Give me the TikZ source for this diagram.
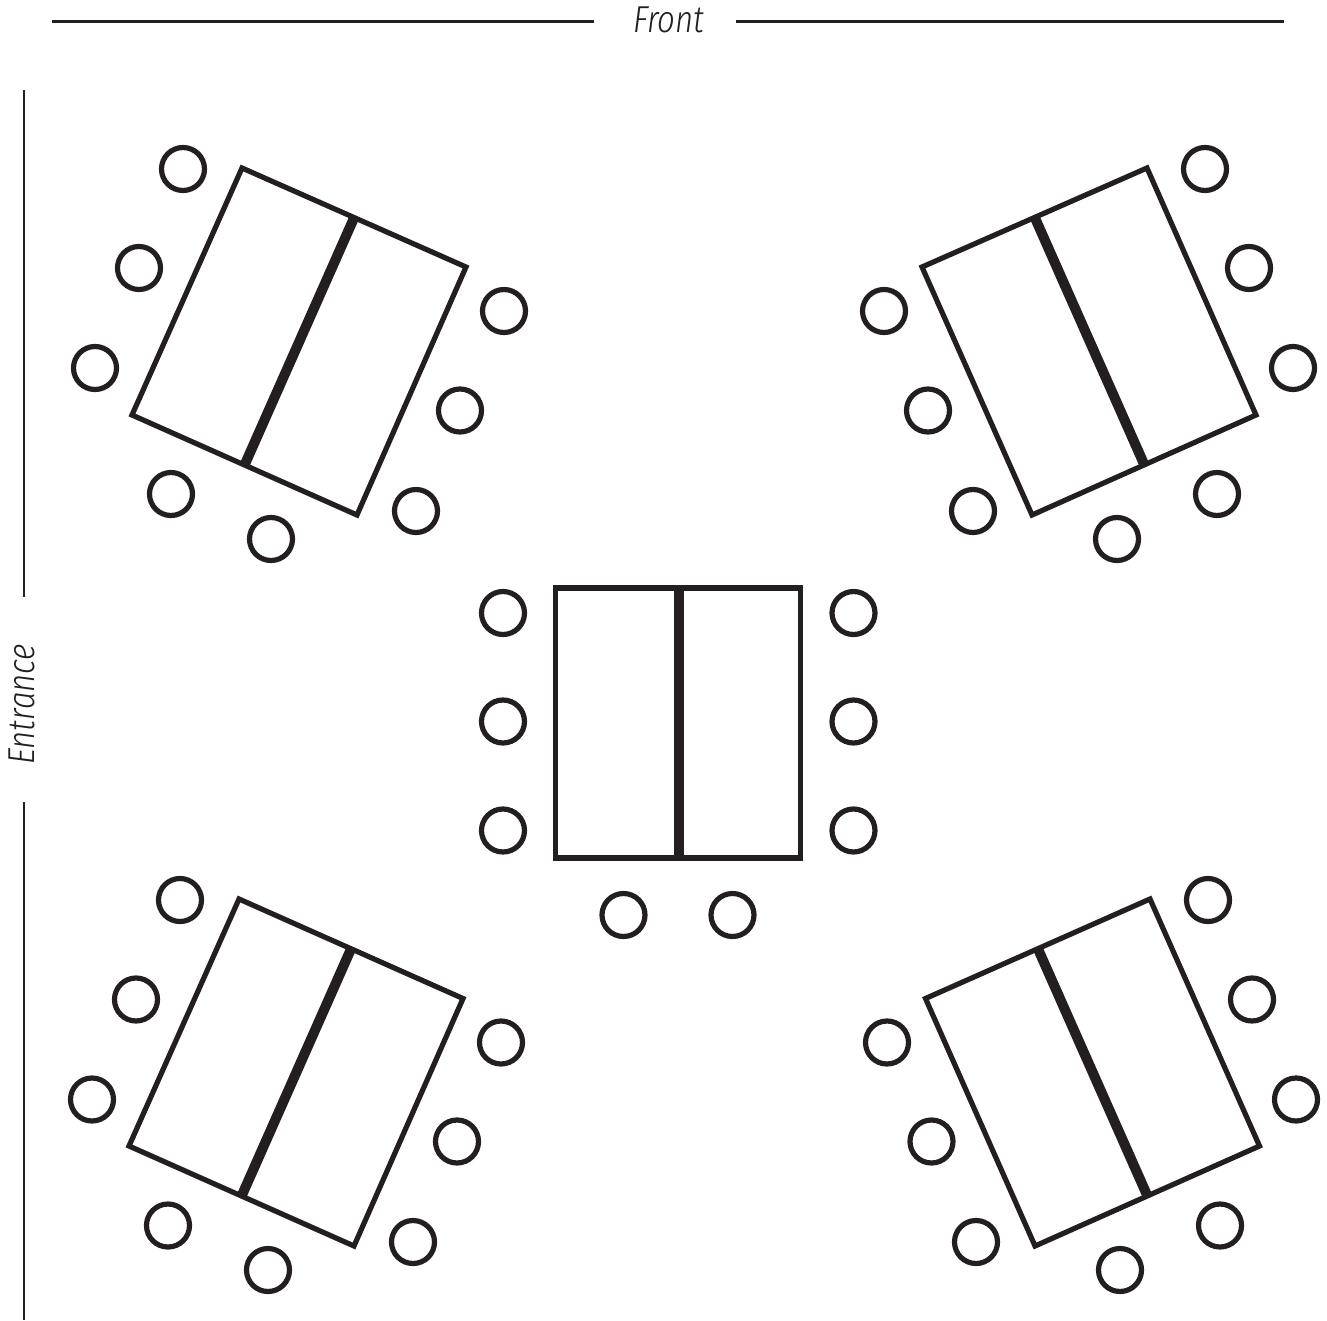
\documentclass[tikz,border=0pt]{standalone}
\usepackage{fontspec}
\setmainfont{Fira Sans Condensed Light}[ItalicFont={Fira Sans Condensed Light Italic},ItalicFeatures={FakeStretch=0.92}]
\definecolor{ink}{HTML}{231F20}
\tikzset{
  seat/.style={draw=ink,line width=5.2pt,fill=none},
  tablebox/.style={draw=ink,line width=5.2pt,line join=miter},
  divider/.style={draw=ink,line width=10pt},
  wall/.style={draw=ink,line width=2.8pt},
  label/.style={text=ink,font=\fontsize{37.5}{37.5}\selectfont\itshape,inner sep=0pt}
}
\begin{document}
\begin{tikzpicture}[x=1pt,y=-1pt]
\useasboundingbox (0,0) rectangle (1327,1321);
% walls
\draw[wall] (52,21.5) -- (594,21.5);
\draw[wall] (736,21.5) -- (1284,21.5);
\draw[wall] (24,90) -- (24,597);
\draw[wall] (24,802) -- (24,1320);
\node[label] (front) at (669,20) {Front};
\node[label,rotate=90] (entrance) at (22,704.5) {Entrance};
% top left
\draw[tablebox] (242,168) -- (466,267) -- (357,515) -- (132,415) -- cycle;
\draw[divider] (354,218) -- (245,464);
\foreach \p in {(183,169),(139,268),(95,368),(171,494),(271,539),(416,511),(460,410.5),(504,311)}
  \draw[seat] \p circle (21.5);
% top right
\draw[tablebox] (1147,168) -- (922,267) -- (1032,515) -- (1256,415) -- cycle;
\draw[divider] (1035,218) -- (1144,464);
\foreach \p in {(1205,169),(1249,268),(1293,368),(1217,494),(1117,539),(973,511),(928,410.5),(884,311)}
  \draw[seat] \p circle (21.5);
% bottom left
\draw[tablebox] (239,899) -- (463,998.5) -- (354,1246) -- (129,1146) -- cycle;
\draw[divider] (351,949) -- (242,1195);
\foreach \p in {(180,900),(136,999.5),(92,1099.5),(168,1225.5),(268,1270),(413,1242),(457,1141.5),(501,1042.5)}
  \draw[seat] \p circle (21.5);
% bottom right
\draw[tablebox] (1150,899) -- (925.5,998.5) -- (1035,1246) -- (1259.5,1146) -- cycle;
\draw[divider] (1038,949) -- (1147,1195);
\foreach \p in {(1208,900),(1252,999.5),(1296,1099.5),(1220,1225.5),(1120,1270),(976,1242),(931.5,1141.5),(887,1042.5)}
  \draw[seat] \p circle (21.5);
% centre
\draw[tablebox] (555.5,588) rectangle (800.5,858);
\draw[divider] (678.5,586) -- (678.5,860);
\foreach \p in {(503,613),(503,721.5),(503,830.5),(853.5,613),(853.5,721.5),(853.5,830.5),(623.5,915),(732.5,915)}
  \draw[seat] \p circle (21.5);
\end{tikzpicture}
\end{document}
